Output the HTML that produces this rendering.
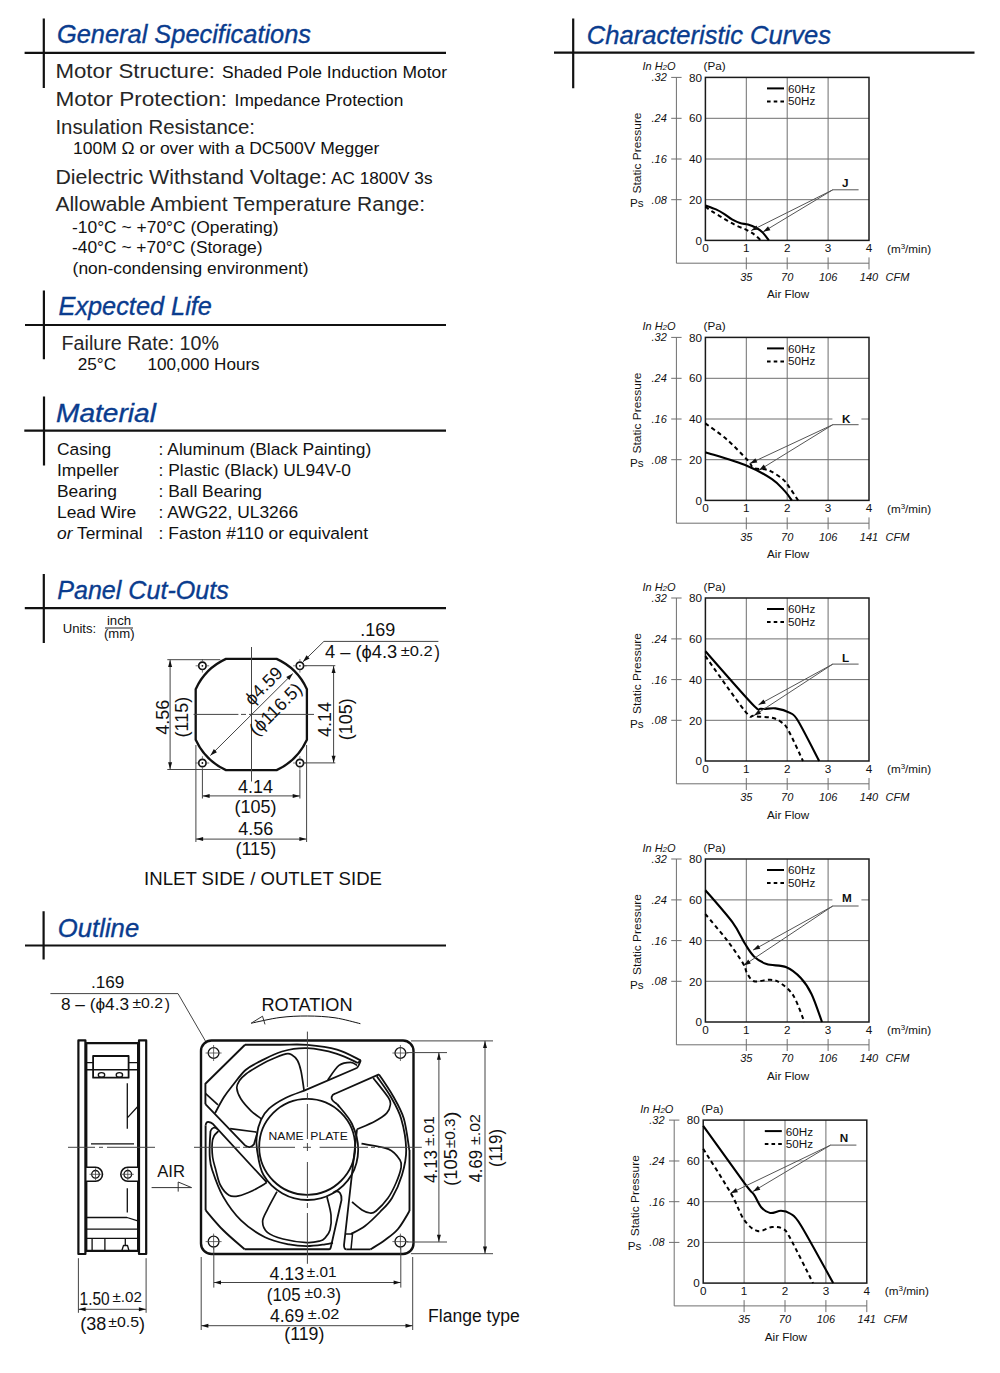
<!DOCTYPE html>
<html><head><meta charset="utf-8">
<style>
html,body{margin:0;padding:0;background:#fff;}
body{width:1000px;height:1373px;overflow:hidden;position:relative;}
svg{position:absolute;left:0;top:0;}
text{font-family:"Liberation Sans",sans-serif;}
.h{font-style:italic;fill:#0a3c8e;stroke:#0a3c8e;stroke-width:0.35px;font-size:26px;}
.g{fill:#262626;font-size:20px;}
.a{fill:#111;font-size:17.4px;}
.ct text{font-size:11.7px;fill:#111;}
.ct text.ci{font-style:italic;font-size:11px;}
.d{fill:#111;font-size:18px;}
</style></head><body>
<svg width="1000" height="1373" viewBox="0 0 1000 1373">
<g stroke="#111" stroke-width="2.2" fill="none">
<path d="M43.8 18.5V88M24.6 52.9H446"/>
<path d="M43.9 290.4V359.3M25 325H446"/>
<path d="M44 396.5V465.6M24.3 430.7H446"/>
<path d="M43.8 573.9V643M24.8 608.2H446"/>
<path d="M43.6 911.2V959.4M25 945.5H446"/>
<path d="M573.2 18.4V88.3M554 52.7H974.5"/>
</g>
<text class="h" x="57" y="43.3" textLength="254" lengthAdjust="spacingAndGlyphs" >General Specifications</text>
<text class="h" x="58.5" y="315.1" textLength="153.4" lengthAdjust="spacingAndGlyphs" >Expected Life</text>
<text class="h" x="56" y="421.7" textLength="100" lengthAdjust="spacingAndGlyphs" >Material</text>
<text class="h" x="57.2" y="598.6" textLength="171.6" lengthAdjust="spacingAndGlyphs" >Panel Cut-Outs</text>
<text class="h" x="57.8" y="936.5" textLength="81.4" lengthAdjust="spacingAndGlyphs" >Outline</text>
<text class="h" x="586.8" y="43.6" textLength="244.2" lengthAdjust="spacingAndGlyphs" >Characteristic Curves</text>
<text class="g" x="55.4" y="78.1" textLength="159.6" lengthAdjust="spacingAndGlyphs" >Motor Structure:</text>
<text class="a" x="222" y="78.2" textLength="225" lengthAdjust="spacingAndGlyphs" >Shaded Pole Induction Motor</text>
<text class="g" x="55.4" y="106" textLength="171.6" lengthAdjust="spacingAndGlyphs" >Motor Protection:</text>
<text class="a" x="234.6" y="106.1" textLength="168.7" lengthAdjust="spacingAndGlyphs" >Impedance Protection</text>
<text class="g" x="55.4" y="133.8" textLength="199.6" lengthAdjust="spacingAndGlyphs" >Insulation Resistance:</text>
<text class="a" x="73" y="154.4" textLength="306.4" lengthAdjust="spacingAndGlyphs" >100M Ω or over with a DC500V Megger</text>
<text class="g" x="55.4" y="183.5" textLength="271.6" lengthAdjust="spacingAndGlyphs" >Dielectric Withstand Voltage:</text>
<text class="a" x="331" y="183.5" textLength="101.5" lengthAdjust="spacingAndGlyphs" >AC 1800V 3s</text>
<text class="g" x="55.4" y="211.3" textLength="369.6" lengthAdjust="spacingAndGlyphs" >Allowable Ambient Temperature Range:</text>
<text class="a" x="72" y="232.6" textLength="206.5" lengthAdjust="spacingAndGlyphs" >-10°C ~ +70°C (Operating)</text>
<text class="a" x="72" y="253" textLength="190.5" lengthAdjust="spacingAndGlyphs" >-40°C ~ +70°C (Storage)</text>
<text class="a" x="72.6" y="274.4" textLength="235.9" lengthAdjust="spacingAndGlyphs" >(non-condensing environment)</text>
<text class="g" x="61.6" y="350.2" textLength="157.3" lengthAdjust="spacingAndGlyphs" >Failure Rate: 10%</text>
<text class="a" x="77.7" y="369.7" textLength="38.5" lengthAdjust="spacingAndGlyphs" >25°C</text>
<text class="a" x="147.4" y="369.7" textLength="112.3" lengthAdjust="spacingAndGlyphs" >100,000 Hours</text>
<text class="a" x="57" y="455.2" >Casing</text>
<text class="a" x="158.6" y="455.2" >: Aluminum (Black Painting)</text>
<text class="a" x="57" y="476.3" >Impeller</text>
<text class="a" x="158.6" y="476.3" >: Plastic (Black) UL94V-0</text>
<text class="a" x="57" y="497.2" >Bearing</text>
<text class="a" x="158.6" y="497.2" >: Ball Bearing</text>
<text class="a" x="57" y="517.8" >Lead Wire</text>
<text class="a" x="158.6" y="517.8" >: AWG22, UL3266</text>
<text class="a" x="57" y="538.7" ><tspan font-style="italic">or</tspan> Terminal</text>
<text class="a" x="158.6" y="538.7" >: Faston #110 or equivalent</text>
<text class="a" x="62.7" y="632.9" style="font-size:13.1px">Units:</text>
<text class="a" x="106.9" y="625" style="font-size:13.2px">inch</text>
<path d="M105 628H133" stroke="#222" stroke-width="1"/>
<text class="a" x="104" y="637.5" style="font-size:13.1px">(mm)</text>
<path d="M225.97 658.9H276.63A61.1 61.1 0 0 1 306.9 689.17V739.83A61.1 61.1 0 0 1 276.63 770.1H225.97A61.1 61.1 0 0 1 195.7 739.83V689.17A61.1 61.1 0 0 1 225.97 658.9Z" fill="none" stroke="#111" stroke-width="2.3"/>
<path d="M251.5 647V781.5M193.6 714.4H238.4M241 714.4H246M249 714.4H314" stroke="#444" stroke-width="1" fill="none"/>
<circle cx="202.4" cy="665.8" r="3.7" fill="none" stroke="#111" stroke-width="1.7"/><circle cx="202.4" cy="665.8" r="0.9" fill="#111"/><path d="M195.6 665.8H198.7M206.1 665.8H209.2M202.4 659V662.1M202.4 669.5V672.6" stroke="#555" stroke-width="0.8"/>
<circle cx="299.9" cy="665.8" r="3.7" fill="none" stroke="#111" stroke-width="1.7"/><circle cx="299.9" cy="665.8" r="0.9" fill="#111"/><path d="M293.1 665.8H296.2M303.6 665.8H306.7M299.9 659V662.1M299.9 669.5V672.6" stroke="#555" stroke-width="0.8"/>
<circle cx="202.4" cy="763" r="3.7" fill="none" stroke="#111" stroke-width="1.7"/><circle cx="202.4" cy="763" r="0.9" fill="#111"/><path d="M195.6 763H198.7M206.1 763H209.2M202.4 756.2V759.3M202.4 766.7V769.8" stroke="#555" stroke-width="0.8"/>
<circle cx="299.9" cy="763" r="3.7" fill="none" stroke="#111" stroke-width="1.7"/><circle cx="299.9" cy="763" r="0.9" fill="#111"/><path d="M293.1 763H296.2M303.6 763H306.7M299.9 756.2V759.3M299.9 766.7V769.8" stroke="#555" stroke-width="0.8"/>
<path d="M210.4 755.5L292.8 673.6" stroke="#444" stroke-width="1" fill="none"/>
<g fill="#111"><path d="M210.4 755.5L213.81 749L216.92 752.13Z"/><path d="M292.8 673.6L289.39 680.1L286.28 676.97Z"/></g>
<g transform="translate(251.3 714.5) rotate(-45)"><text class="d" x="28.9" y="-5.5" text-anchor="middle">ϕ4.59</text><text class="d" x="20.9" y="19.5" text-anchor="middle">(ϕ116.5)</text></g>
<path d="M167.3 659.7H220.3M167.3 769.5H220.3M170.1 659.7V769.5" stroke="#444" stroke-width="1" fill="none"/>
<g fill="#111"><path d="M170.1 659.9L172.1 666.9L168.1 666.9Z"/><path d="M170.1 769.3L168.1 762.3L172.1 762.3Z"/></g>
<text class="d" transform="translate(168.6 717.3) rotate(-90)" x="0" y="0" text-anchor="middle">4.56</text>
<text class="d" transform="translate(187.8 717.2) rotate(-90)" x="0" y="0" text-anchor="middle">(115)</text>
<path d="M303.8 665.7H335.3M303.8 762.9H335.3M333.6 665.7V762.9" stroke="#444" stroke-width="1" fill="none"/>
<g fill="#111"><path d="M333.6 665.9L335.6 672.9L331.6 672.9Z"/><path d="M333.6 762.7L331.6 755.7L335.6 755.7Z"/></g>
<text class="d" transform="translate(330.6 719.6) rotate(-90)" x="0" y="0" text-anchor="middle">4.14</text>
<text class="d" transform="translate(351.6 719.2) rotate(-90)" x="0" y="0" text-anchor="middle">(105)</text>
<path d="M195.9 745V842M202.4 770V798.5M299.9 770V798.5M306.6 745V842M202.4 795.9H299.9M195.9 839.1H306.6" stroke="#444" stroke-width="1" fill="none"/>
<g fill="#111"><path d="M202.6 795.9L209.6 793.9L209.6 797.9Z"/><path d="M299.7 795.9L292.7 797.9L292.7 793.9Z"/><path d="M196.1 839.1L203.1 837.1L203.1 841.1Z"/><path d="M306.4 839.1L299.4 841.1L299.4 837.1Z"/></g>
<text class="d" x="255.5" y="792.9" text-anchor="middle">4.14</text>
<text class="d" x="255.5" y="812.9" text-anchor="middle">(105)</text>
<text class="d" x="255.8" y="835.2" text-anchor="middle">4.56</text>
<text class="d" x="255.8" y="854.9" text-anchor="middle">(115)</text>
<text class="d" x="144.1" y="885.2" textLength="237.9" lengthAdjust="spacingAndGlyphs" style="font-size:18.5px">INLET SIDE / OUTLET SIDE</text>
<path d="M303 661.8L323.9 641.4H438.4" stroke="#444" stroke-width="1" fill="none"/>
<g fill="#111"><path d="M303 661.8L306.47 655.34L309.55 658.48Z"/></g>
<text class="d" x="360.2" y="636.3" >.169</text>
<text class="d" x="325" y="658.4" textLength="72.3" lengthAdjust="spacingAndGlyphs" >4 – (ϕ4.3</text>
<text class="d" x="400.7" y="655.5" textLength="32" lengthAdjust="spacingAndGlyphs" style="font-size:15.5px">±0.2</text>
<text class="d" x="434.6" y="658.4" textLength="5.4" lengthAdjust="spacingAndGlyphs" >)</text>
<text class="d" x="91" y="988" textLength="33.4" lengthAdjust="spacingAndGlyphs" style="font-size:17px">.169</text>
<path d="M50.4 993.6H178L206 1042" stroke="#444" stroke-width="1" fill="none"/>
<text class="d" x="61" y="1010.4" textLength="68" lengthAdjust="spacingAndGlyphs" style="font-size:17px">8 – (ϕ4.3</text>
<text class="d" x="132.4" y="1007.6" textLength="30.6" lengthAdjust="spacingAndGlyphs" style="font-size:15px">±0.2</text>
<text class="d" x="164.8" y="1010.4" textLength="5.2" lengthAdjust="spacingAndGlyphs" style="font-size:17px">)</text>
<path d="M78.4 1040.4H85.4V1254H78.4Z" stroke="#111" stroke-width="2.2" fill="none" stroke-linejoin="round" />
<path d="M139 1040.4H146.2V1254H139Z" stroke="#111" stroke-width="2.2" fill="none" stroke-linejoin="round" />
<path d="M85.4 1043.2H139M85.4 1250.8H139" stroke="#111" stroke-width="2.2" fill="none" stroke-linejoin="round" />
<path d="M86.6 1043.2V1167.3H95.5A7 7 0 0 1 95.5 1181.3H86.6V1250.8" stroke="#111" stroke-width="1.6" fill="none" stroke-linejoin="round" />
<path d="M137.8 1043.2V1167.3H127.8A7 7 0 0 0 127.8 1181.3H137.8V1250.8" stroke="#111" stroke-width="1.6" fill="none" stroke-linejoin="round" />
<path d="M93.1 1056H128.6V1077.7H93.1Z" stroke="#111" stroke-width="1.8" fill="none" stroke-linejoin="round" />
<path d="M86.6 1062.6H93.1M128.6 1062.6H137.8M86.6 1069.7H137.8" stroke="#111" stroke-width="1.4" fill="none" stroke-linejoin="round" />
<ellipse cx="101.5" cy="1074.9" rx="3.2" ry="2.2" fill="none" stroke="#111" stroke-width="1.3"/>
<ellipse cx="119.4" cy="1074.9" rx="3.2" ry="2.2" fill="none" stroke="#111" stroke-width="1.3"/>
<path d="M127.3 1083.2V1128.8M127.3 1117.9L138 1106.2M91 1143.8H134M127.3 1188.2V1212.5" stroke="#111" stroke-width="1.3" fill="none" stroke-linejoin="round" />
<path d="M86.6 1217.5H127L137.8 1220.9M86.6 1229.2H137.8M86.6 1238.4H137.8M92.1 1238.4V1250.8M104.9 1238.4V1250.8M121.8 1250.8L123.5 1245.5H127.5L129 1250.8M125.3 1238.4V1245.5" stroke="#111" stroke-width="1.3" fill="none" stroke-linejoin="round" />
<circle cx="95.5" cy="1174.3" r="3.8" fill="none" stroke="#111" stroke-width="1.3"/>
<path d="M89.5 1174.3H101.5M95.5 1168.3V1180.3" stroke="#444" stroke-width="0.8" fill="none" stroke-linejoin="round" />
<circle cx="127.8" cy="1174.3" r="3.8" fill="none" stroke="#111" stroke-width="1.3"/>
<path d="M121.8 1174.3H133.8M127.8 1168.3V1180.3" stroke="#444" stroke-width="0.8" fill="none" stroke-linejoin="round" />
<path d="M68 1147.3H95M99 1147.3H103M107 1147.3H155" stroke="#444" stroke-width="1" fill="none" stroke-linejoin="round" />
<path d="M78.4 1258.2V1312.8M146.1 1258.2V1312.8M78.4 1309.3H146.1" stroke="#444" stroke-width="1" fill="none" stroke-linejoin="round" />
<g fill="#111"><path d="M78.6 1309.3L85.6 1307.3L85.6 1311.3Z"/><path d="M145.9 1309.3L138.9 1311.3L138.9 1307.3Z"/></g>
<text class="d" x="79.6" y="1304.7" textLength="30.1" lengthAdjust="spacingAndGlyphs" >1.50</text>
<text class="d" x="112.5" y="1301.6" textLength="29.4" lengthAdjust="spacingAndGlyphs" style="font-size:15.5px" >±.02</text>
<text class="d" x="80.3" y="1329.6" >(38</text>
<text class="d" x="108.3" y="1327.1" textLength="30.8" lengthAdjust="spacingAndGlyphs" style="font-size:15.5px" >±0.5</text>
<text class="d" x="139" y="1329.6" >)</text>
<text class="d" x="157.2" y="1177.2" style="font-size:16.7px">AIR</text>
<path d="M151.6 1187.6H191.6L178.2 1182V1191.6" stroke="#333" stroke-width="1" fill="none" stroke-linejoin="round" />
<rect x="201" y="1040.5" width="212.5" height="213.5" rx="10.5" fill="none" stroke="#111" stroke-width="2.4"/>
<circle cx="213.6" cy="1053" r="5.4" fill="none" stroke="#111" stroke-width="1.3"/><path d="M205.6 1053H221.6M213.6 1045V1061" stroke="#444" stroke-width="0.8" fill="none" stroke-linejoin="round" />
<circle cx="400.4" cy="1053" r="5.4" fill="none" stroke="#111" stroke-width="1.3"/><path d="M392.4 1053H408.4M400.4 1045V1061" stroke="#444" stroke-width="0.8" fill="none" stroke-linejoin="round" />
<circle cx="213.6" cy="1241.6" r="5.4" fill="none" stroke="#111" stroke-width="1.3"/><path d="M205.6 1241.6H221.6M213.6 1233.6V1249.6" stroke="#444" stroke-width="0.8" fill="none" stroke-linejoin="round" />
<circle cx="400.4" cy="1241.6" r="5.4" fill="none" stroke="#111" stroke-width="1.3"/><path d="M392.4 1241.6H408.4M400.4 1233.6V1249.6" stroke="#444" stroke-width="0.8" fill="none" stroke-linejoin="round" />
<circle cx="307.2" cy="1146.8" r="48" fill="none" stroke="#111" stroke-width="1.8"/>
<path d="M356.8 1068L304.2 1090.6 C301 1091.87 290.87 1095.2 285 1098.2 C279.13 1101.2 273 1105 269 1108.6 C265 1112.2 263.03 1115.4 261 1119.8 C258.97 1124.2 257.47 1130.05 256.8 1135 C256.13 1139.95 255.88 1142.83 257 1149.5 C258.12 1156.17 259.25 1167.67 263.5 1175 C267.75 1182.33 275.17 1189.33 282.5 1193.5 C289.83 1197.67 299.17 1200 307.5 1200 C315.83 1200 325.17 1197.67 332.5 1193.5 C339.83 1189.33 347.22 1182.33 351.5 1175 C355.78 1167.67 358.12 1158 358.2 1149.5 C358.28 1141 355.5 1131.57 352 1124 C348.5 1116.43 339.67 1107.42 337.2 1104.1" stroke="#111" stroke-width="1.8" fill="none" stroke-linejoin="round" />
<path d="M245 1044.8 C250.83 1044.8 269.62 1044.78 280 1044.8 C290.38 1044.82 297.8 1044.1 307.3 1044.9 C316.8 1045.7 328.1 1047.03 337 1049.6 C345.9 1052.17 356.75 1058.52 360.7 1060.3" stroke="#111" stroke-width="1.9" fill="none" stroke-linejoin="round" />
<path d="M245 1044.8L205.4 1083.8V1104.2M205.6 1125.5V1210.2" stroke="#111" stroke-width="1.9" fill="none" stroke-linejoin="round" />
<path d="M205.6 1210.2 C208.5 1213.5 216.5 1223.48 223 1230 C229.5 1236.52 241 1246.08 244.6 1249.3" stroke="#111" stroke-width="1.9" fill="none" stroke-linejoin="round" />
<path d="M244.6 1249.3H329M346.5 1249.4H370.5" stroke="#111" stroke-width="1.9" fill="none" stroke-linejoin="round" />
<path d="M370.5 1249.4 C372.92 1247.83 380.42 1243.4 385 1240 C389.58 1236.6 393.92 1233.83 398 1229 C402.08 1224.17 407.58 1214 409.5 1211" stroke="#111" stroke-width="1.9" fill="none" stroke-linejoin="round" />
<path d="M409.5 1211V1150" stroke="#111" stroke-width="1.9" fill="none" stroke-linejoin="round" />
<path d="M215 1113.2 C216.5 1110.5 221 1101.7 224 1097 C227 1092.3 229.4 1089.5 233 1085 C236.6 1080.5 241.1 1073.93 245.6 1070 C250.1 1066.07 253.93 1064.48 260 1061.4 C266.07 1058.32 274.12 1053.7 282 1051.5 C289.88 1049.3 298.13 1047.82 307.3 1048.2 C316.47 1048.58 328.57 1051.33 337 1053.8 C345.43 1056.27 354.42 1061.47 357.9 1063" stroke="#111" stroke-width="1.8" fill="none" stroke-linejoin="round" />
<path d="M360.7 1060.3L357.9 1063" stroke="#111" stroke-width="1.8" fill="none" stroke-linejoin="round" />
<path d="M379 1074.4 C381.33 1078 388.87 1088.65 393 1096 C397.13 1103.35 401.08 1109.5 403.8 1118.5 C406.52 1127.5 408.38 1144.75 409.3 1150" stroke="#111" stroke-width="1.8" fill="none" stroke-linejoin="round" />
<path d="M376.8 1076.2 C379.05 1079.5 386.25 1088.95 390.3 1096 C394.35 1103.05 398.45 1109.5 401.1 1118.5 C403.75 1127.5 406.05 1140.58 406.2 1150 C406.35 1159.42 404.37 1167 402 1175 C399.63 1183 395.67 1191.83 392 1198 C388.33 1204.17 384.5 1207.33 380 1212 C375.5 1216.67 369.83 1222.33 365 1226 C360.17 1229.67 353.33 1232.67 351 1234" stroke="#111" stroke-width="1.8" fill="none" stroke-linejoin="round" />
<path d="M217.5 1129Q213 1125.5 210.5 1131" stroke="#111" stroke-width="1.8" fill="none" stroke-linejoin="round" />
<path d="M210.5 1131 C210.38 1133 209.92 1138.67 209.8 1143 C209.68 1147.33 209.4 1152.5 209.8 1157 C210.2 1161.5 210 1163.43 212.2 1170 C214.4 1176.57 218.2 1188 223 1196.4 C227.8 1204.8 234 1213.6 241 1220.4 C248 1227.2 257 1233.2 265 1237.2 C273 1241.2 282 1242.9 289 1244.4 C296 1245.9 301 1246.2 307 1246.2 C313 1246.2 320.67 1244.97 325 1244.4 C329.33 1243.83 331.67 1243.07 333 1242.8" stroke="#111" stroke-width="1.8" fill="none" stroke-linejoin="round" />
<path d="M205.4 1093.4L218 1104.8" stroke="#111" stroke-width="1.7" fill="none" stroke-linejoin="round" />
<path d="M205.4 1104.2L244.8 1145.1Q249.7 1149.5 253.9 1144.4L257.5 1132.5" stroke="#111" stroke-width="1.8" fill="none" stroke-linejoin="round" />
<path d="M205.6 1125.5Q206 1121.5 208.7 1122Q211 1122.3 212.6 1123.7L266.8 1182.4" stroke="#111" stroke-width="1.8" fill="none" stroke-linejoin="round" />
<path d="M356.8 1068Q359 1066 360.7 1060.3" stroke="#111" stroke-width="1.8" fill="none" stroke-linejoin="round" />
<path d="M337.2 1104.1Q331 1100.5 331.6 1097Q332.3 1094.6 335 1093.7L379 1074.4" stroke="#111" stroke-width="1.8" fill="none" stroke-linejoin="round" />
<path d="M357 1129.3L344 1245Q344 1249.4 346.5 1249.4" stroke="#111" stroke-width="1.8" fill="none" stroke-linejoin="round" />
<path d="M333 1193Q337 1189.5 340 1193Q342 1196 341.5 1200L331 1246.5Q330.5 1249.3 329 1249.3" stroke="#111" stroke-width="1.8" fill="none" stroke-linejoin="round" />
<path d="M346 1234H353M352.5 1234L351 1249.4" stroke="#111" stroke-width="1.5" fill="none" stroke-linejoin="round" />
<path d="M304 1090 C303.5 1086.83 302.08 1075.92 301 1071 C299.92 1066.08 299 1063.17 297.5 1060.5 C296 1057.83 293.92 1056.12 292 1055 C290.08 1053.88 289.67 1052.97 286 1053.8 C282.33 1054.63 275 1057.72 270 1060 C265 1062.28 260 1065.17 256 1067.5 C252 1069.83 248.75 1071.83 246 1074 C243.25 1076.17 241.03 1078.17 239.5 1080.5 C237.97 1082.83 236.58 1084.95 236.8 1088 C237.02 1091.05 238.43 1095 240.8 1098.8 C243.17 1102.6 247.57 1107.47 251 1110.8 C254.43 1114.13 259.67 1117.47 261.4 1118.8" stroke="#111" stroke-width="1.7" fill="none" stroke-linejoin="round" />
<path d="M327.7 1080.1 C329.58 1077.65 335.17 1068.37 339 1065.4 C342.83 1062.43 347.7 1062.3 350.7 1062.3 C353.7 1062.3 355.95 1064.88 357 1065.4" stroke="#111" stroke-width="1.7" fill="none" stroke-linejoin="round" />
<path d="M373.2 1078 C375.75 1081.3 385.65 1093.3 388.5 1097.8 C391.35 1102.3 390.6 1102.45 390.3 1105 C390 1107.55 389.25 1110.4 386.7 1113.1 C384.15 1115.8 379.95 1118.5 375 1121.2 C370.05 1123.9 360 1127.95 357 1129.3" stroke="#111" stroke-width="1.7" fill="none" stroke-linejoin="round" />
<path d="M361.5 1143.7 C366 1144.6 382.08 1146.38 388.5 1149.1 C394.92 1151.82 397.92 1156.85 400 1160 C402.08 1163.15 401.67 1164.17 401 1168 C400.33 1171.83 398.17 1178 396 1183 C393.83 1188 391.33 1193.33 388 1198 C384.67 1202.67 379 1208.5 376 1211 C373 1213.5 372.33 1213.17 370 1213 C367.67 1212.83 365 1211.83 362 1210 C359 1208.17 353.67 1203.33 352 1202" stroke="#111" stroke-width="1.7" fill="none" stroke-linejoin="round" />
<path d="M277 1191.6 C275.4 1194.6 269.8 1204.6 267.4 1209.6 C265 1214.6 262.6 1217.8 262.6 1221.6 C262.6 1225.4 264 1229.5 267.4 1232.4 C270.8 1235.3 276.4 1237.3 283 1239 C289.6 1240.7 300.83 1242.27 307 1242.6 C313.17 1242.93 317 1241.77 320 1241 C323 1240.23 323.33 1239.83 325 1238 C326.67 1236.17 329 1233.83 330 1230 C331 1226.17 331.5 1220.5 331 1215 C330.5 1209.5 327.67 1200 327 1197" stroke="#111" stroke-width="1.7" fill="none" stroke-linejoin="round" />
<path d="M218.5 1131.1 C217.75 1131.92 215.05 1134.02 214 1136 C212.95 1137.98 212.43 1139.5 212.2 1143 C211.97 1146.5 212 1152.5 212.6 1157 C213.2 1161.5 214.52 1165.33 215.8 1170 C217.08 1174.67 218.1 1180.8 220.3 1185 C222.5 1189.2 225.95 1193.4 229 1195.2 C232.05 1197 234.6 1196.6 238.6 1195.8 C242.6 1195 248.3 1192.6 253 1190.4 C257.7 1188.2 264.5 1183.9 266.8 1182.6" stroke="#111" stroke-width="1.7" fill="none" stroke-linejoin="round" />
<path d="M230.1 1128.6L256.5 1132.1" stroke="#111" stroke-width="1.6" fill="none" stroke-linejoin="round" />
<text class="d" x="268.6" y="1139.8" style="font-size:11.6px" textLength="79.2" lengthAdjust="spacingAndGlyphs">NAME&#160;&#160;PLATE</text>
<path d="M194 1147.3H240M243 1147.3H247M250 1147.3H295M303 1147.3H311M319.6 1147.3H368M371 1147.3H375M378 1147.3H421.8" stroke="#444" stroke-width="1" fill="none" stroke-linejoin="round" />
<path d="M307.4 1031.6V1087M307.4 1093V1099M307.4 1104V1139M307.4 1143V1151M307.4 1162V1198M307.4 1203V1208M307.4 1213V1263.8" stroke="#444" stroke-width="1" fill="none" stroke-linejoin="round" />
<text class="d" x="261.5" y="1011.2" textLength="91" lengthAdjust="spacingAndGlyphs">ROTATION</text>
<path d="M251.2 1023.2 C256 1022.25 270.6 1018.7 280 1017.5 C289.4 1016.3 298.43 1015.95 307.6 1016 C316.77 1016.05 326.2 1016.52 335 1017.8 C343.8 1019.08 356.17 1022.72 360.4 1023.7" stroke="#111" stroke-width="1" fill="none" stroke-linejoin="round" />
<path d="M251.2 1023.2L262.5 1016.2L265 1024.4" stroke="#333" stroke-width="1" fill="none" stroke-linejoin="round" />
<path d="M410.9 1040.9H493M410.9 1253.7H493M406.7 1052.6H447M406.7 1242H447M438.9 1052.6V1242M485 1040.9V1253.7" stroke="#444" stroke-width="1" fill="none" stroke-linejoin="round" />
<g fill="#111"><path d="M438.9 1052.8L440.9 1059.8L436.9 1059.8Z"/><path d="M438.9 1241.8L436.9 1234.8L440.9 1234.8Z"/><path d="M485 1041.1L487 1048.1L483 1048.1Z"/><path d="M485 1253.5L483 1246.5L487 1246.5Z"/></g>
<g transform="translate(437.1 1182.9) rotate(-90)"><text class="d" x="0" y="0" textLength="32.9" lengthAdjust="spacingAndGlyphs" style="font-size:17.5px" >4.13</text><text class="d" x="36.9" y="-2.7" textLength="29.7" lengthAdjust="spacingAndGlyphs" style="font-size:15.5px" >±.01</text></g>
<g transform="translate(456.9 1186) rotate(-90)"><text class="d" x="0" y="0" textLength="36.9" lengthAdjust="spacingAndGlyphs" style="font-size:17.5px" >(105</text><text class="d" x="37.8" y="-2.2" textLength="29.7" lengthAdjust="spacingAndGlyphs" style="font-size:15.5px" >±0.3</text><text class="d" x="67.5" y="0" textLength="7.2" lengthAdjust="spacingAndGlyphs" style="font-size:17.5px" >)</text></g>
<g transform="translate(482.1 1182.4) rotate(-90)"><text class="d" x="0" y="0" textLength="32.4" lengthAdjust="spacingAndGlyphs" style="font-size:17.5px" >4.69</text><text class="d" x="37.4" y="-2.6" textLength="31" lengthAdjust="spacingAndGlyphs" style="font-size:15.5px" >±.02</text></g>
<g transform="translate(501.5 1167.1) rotate(-90)"><text class="d" x="0" y="0" textLength="38.2" lengthAdjust="spacingAndGlyphs" style="font-size:17.5px" >(119)</text></g>
<path d="M201.2 1257V1330M412.7 1257V1330M213.8 1248V1287.6M400.8 1248V1287.6M213.8 1282.5H400.8M201.2 1325.7H412.7" stroke="#444" stroke-width="1" fill="none" stroke-linejoin="round" />
<g fill="#111"><path d="M214 1282.5L221 1280.5L221 1284.5Z"/><path d="M400.6 1282.5L393.6 1284.5L393.6 1280.5Z"/><path d="M201.4 1325.7L208.4 1323.7L208.4 1327.7Z"/><path d="M412.5 1325.7L405.5 1327.7L405.5 1323.7Z"/></g>
<text class="d" x="269.5" y="1280.2" textLength="34.6" lengthAdjust="spacingAndGlyphs" >4.13</text>
<text class="d" x="306.8" y="1277.1" textLength="29.8" lengthAdjust="spacingAndGlyphs" style="font-size:15.5px" >±.01</text>
<text class="d" x="266.8" y="1301.2" textLength="33.7" lengthAdjust="spacingAndGlyphs" >(105</text>
<text class="d" x="304.6" y="1297.6" textLength="30.6" lengthAdjust="spacingAndGlyphs" style="font-size:15.5px" >±0.3</text>
<text class="d" x="335.2" y="1301.2" textLength="5.8" lengthAdjust="spacingAndGlyphs" >)</text>
<text class="d" x="269.9" y="1322" textLength="34.2" lengthAdjust="spacingAndGlyphs" >4.69</text>
<text class="d" x="307.7" y="1319" textLength="31.6" lengthAdjust="spacingAndGlyphs" style="font-size:15.5px" >±.02</text>
<text class="d" x="284.3" y="1340.2" textLength="40.1" lengthAdjust="spacingAndGlyphs" >(119)</text>
<text class="d" x="428" y="1321.6" textLength="91.8" lengthAdjust="spacingAndGlyphs">Flange type</text>
<g transform="translate(705.4 240.4)">
<g stroke="#6e6e6e" stroke-width="1" fill="none">
<path d="M40.9 -163V0M81.8 -163V0M122.7 -163V0M0 -40.7H163.6M0 -81.4H163.6M0 -122.1H163.6M-29 -163V22.8H163.6M-34.2 -163H-23.8M-34.2 -122.1H-23.8M-34.2 -81.4H-23.8M-34.2 -40.7H-23.8M40.9 17V29M81.8 17V29M122.7 17V29M163.6 17V29"/></g>
<rect x="0" y="-163" width="163.6" height="163" fill="none" stroke="#1a1a1a" stroke-width="1.5"/>
<path d="M0 -35 C1.77 -34.33 7.5 -32.4 10.6 -31 C13.7 -29.6 15.93 -28.27 18.6 -26.6 C21.27 -24.93 23.93 -22.53 26.6 -21 C29.27 -19.47 31.93 -18.27 34.6 -17.4 C37.27 -16.53 39.93 -16.6 42.6 -15.8 C45.27 -15 48.2 -13.87 50.6 -12.6 C53 -11.33 54.87 -10.3 57 -8.2 C59.13 -6.1 62.33 -1.37 63.4 0" fill="none" stroke="#000" stroke-width="2.1"/>
<path d="M0 -33.8 C1.1 -33 3.5 -31 6.6 -29 C9.7 -27 14.6 -24.13 18.6 -21.8 C22.6 -19.47 26.87 -16.87 30.6 -15 C34.33 -13.13 37.93 -12.13 41 -10.6 C44.07 -9.07 46.6 -7.57 49 -5.8 C51.4 -4.03 54.33 -0.97 55.4 0" fill="none" stroke="#000" stroke-width="2" stroke-dasharray="4.2 3.3"/>
<path d="M61.6 -152H78.6" stroke="#000" stroke-width="2"/>
<path d="M61.6 -139H78.6" stroke="#000" stroke-width="2" stroke-dasharray="3.6 3.1"/>
<g stroke="#555" stroke-width="1" fill="none">
<path d="M127.4 -50.6H153.2M127.4 -50.6L45.8 -9.8M127.4 -50.6L57.8 -8.6"/></g>
<g fill="#111">
<path d="M45.8 -9.8L51.03 -14.99L53.09 -10.87Z"/>
<path d="M57.8 -8.6L62.6 -14.19L64.98 -10.25Z"/>
</g>
<g class="ct">
<text x="-3.4" y="-158.7" text-anchor="end">80</text>
<text x="-3.4" y="-117.95" text-anchor="end">60</text>
<text x="-3.4" y="-77.2" text-anchor="end">40</text>
<text x="-3.4" y="-36.45" text-anchor="end">20</text>
<text x="-3.4" y="4.3" text-anchor="end">0</text>
<text class="ci" x="-38.6" y="-159" text-anchor="end">.32</text>
<text class="ci" x="-38.6" y="-118.25" text-anchor="end">.24</text>
<text class="ci" x="-38.6" y="-77.5" text-anchor="end">.16</text>
<text class="ci" x="-38.6" y="-36.75" text-anchor="end">.08</text>
<text class="ci" x="-63" y="-170.5">In H<tspan font-size="8">2</tspan>O</text>
<text x="-1.9" y="-170.5">(Pa)</text>
<text x="-64.4" y="-87.4" transform="rotate(-90 -64.4 -87.4)" text-anchor="middle" textLength="81" lengthAdjust="spacingAndGlyphs">Static Pressure</text>
<text x="-75.5" y="-33">Ps</text>
<text x="0" y="11.8" text-anchor="middle">0</text>
<text x="40.9" y="11.8" text-anchor="middle">1</text>
<text x="81.8" y="11.8" text-anchor="middle">2</text>
<text x="122.7" y="11.8" text-anchor="middle">3</text>
<text x="163.6" y="11.8" text-anchor="middle">4</text>
<text x="181.6" y="12.4">(m<tspan font-size="8" dy="-4">3</tspan><tspan dy="4">/min)</tspan></text>
<text class="ci" x="40.9" y="40.4" text-anchor="middle">35</text>
<text class="ci" x="81.8" y="40.4" text-anchor="middle">70</text>
<text class="ci" x="122.7" y="40.4" text-anchor="middle">106</text>
<text class="ci" x="163.6" y="40.4" text-anchor="middle">140</text>
<text class="ci" x="180.2" y="40.4">CFM</text>
<text x="61.6" y="58">Air Flow</text>
<text x="82.6" y="-147.6">60Hz</text>
<text x="82.6" y="-135">50Hz</text>
<text x="136.6" y="-53.4" font-weight="bold">J</text>
</g></g>
<g transform="translate(705.4 500.4)">
<g stroke="#6e6e6e" stroke-width="1" fill="none">
<path d="M40.9 -163V0M81.8 -163V0M122.7 -163V0M0 -40.7H163.6M0 -81.4H163.6M0 -122.1H163.6M-29 -163V22.8H163.6M-34.2 -163H-23.8M-34.2 -122.1H-23.8M-34.2 -81.4H-23.8M-34.2 -40.7H-23.8M40.9 17V29M81.8 17V29M122.7 17V29M163.6 17V29"/></g>
<rect x="127" y="-83.4" width="29" height="4" fill="#fff"/>
<rect x="0" y="-163" width="163.6" height="163" fill="none" stroke="#1a1a1a" stroke-width="1.5"/>
<path d="M0 -48.2 C6.9 -45.95 30.3 -39.2 41.4 -34.7 C52.5 -30.2 60.3 -25.4 66.6 -21.2 C72.9 -17 75.9 -13.03 79.2 -9.5 C82.5 -5.97 85.2 -1.58 86.4 0" fill="none" stroke="#000" stroke-width="2.1"/>
<path d="M0 -77 C3.6 -74.3 14.55 -66.95 21.6 -60.8 C28.65 -54.65 37.8 -44.83 42.3 -40.1 C46.8 -35.37 45.15 -34.05 48.6 -32.4 C52.05 -30.75 58.2 -32.07 63 -30.2 C67.8 -28.33 73.8 -24.2 77.4 -21.2 C81 -18.2 82.05 -15.73 84.6 -12.2 C87.15 -8.67 91.35 -2.03 92.7 0" fill="none" stroke="#000" stroke-width="2" stroke-dasharray="4.2 3.3"/>
<path d="M61.6 -152H78.6" stroke="#000" stroke-width="2"/>
<path d="M61.6 -139H78.6" stroke="#000" stroke-width="2" stroke-dasharray="3.6 3.1"/>
<g stroke="#555" stroke-width="1" fill="none">
<path d="M127.4 -75.7H153.2M127.4 -75.7L44.6 -37M127.4 -75.7L53.6 -30.2"/></g>
<g fill="#111">
<path d="M44.6 -37L49.97 -42.05L51.92 -37.88Z"/>
<path d="M53.6 -30.2L58.35 -35.83L60.77 -31.92Z"/>
</g>
<g class="ct">
<text x="-3.4" y="-158.7" text-anchor="end">80</text>
<text x="-3.4" y="-117.95" text-anchor="end">60</text>
<text x="-3.4" y="-77.2" text-anchor="end">40</text>
<text x="-3.4" y="-36.45" text-anchor="end">20</text>
<text x="-3.4" y="4.3" text-anchor="end">0</text>
<text class="ci" x="-38.6" y="-159" text-anchor="end">.32</text>
<text class="ci" x="-38.6" y="-118.25" text-anchor="end">.24</text>
<text class="ci" x="-38.6" y="-77.5" text-anchor="end">.16</text>
<text class="ci" x="-38.6" y="-36.75" text-anchor="end">.08</text>
<text class="ci" x="-63" y="-170.5">In H<tspan font-size="8">2</tspan>O</text>
<text x="-1.9" y="-170.5">(Pa)</text>
<text x="-64.4" y="-87.4" transform="rotate(-90 -64.4 -87.4)" text-anchor="middle" textLength="81" lengthAdjust="spacingAndGlyphs">Static Pressure</text>
<text x="-75.5" y="-33">Ps</text>
<text x="0" y="11.8" text-anchor="middle">0</text>
<text x="40.9" y="11.8" text-anchor="middle">1</text>
<text x="81.8" y="11.8" text-anchor="middle">2</text>
<text x="122.7" y="11.8" text-anchor="middle">3</text>
<text x="163.6" y="11.8" text-anchor="middle">4</text>
<text x="181.6" y="12.4">(m<tspan font-size="8" dy="-4">3</tspan><tspan dy="4">/min)</tspan></text>
<text class="ci" x="40.9" y="40.4" text-anchor="middle">35</text>
<text class="ci" x="81.8" y="40.4" text-anchor="middle">70</text>
<text class="ci" x="122.7" y="40.4" text-anchor="middle">106</text>
<text class="ci" x="163.6" y="40.4" text-anchor="middle">141</text>
<text class="ci" x="180.2" y="40.4">CFM</text>
<text x="61.6" y="58">Air Flow</text>
<text x="82.6" y="-147.6">60Hz</text>
<text x="82.6" y="-135">50Hz</text>
<text x="136.6" y="-77.9" font-weight="bold">K</text>
</g></g>
<g transform="translate(705.4 761)">
<g stroke="#6e6e6e" stroke-width="1" fill="none">
<path d="M40.9 -163V0M81.8 -163V0M122.7 -163V0M0 -40.7H163.6M0 -81.4H163.6M0 -122.1H163.6M-29 -163V22.8H163.6M-34.2 -163H-23.8M-34.2 -122.1H-23.8M-34.2 -81.4H-23.8M-34.2 -40.7H-23.8M40.9 17V29M81.8 17V29M122.7 17V29M163.6 17V29"/></g>
<rect x="0" y="-163" width="163.6" height="163" fill="none" stroke="#1a1a1a" stroke-width="1.5"/>
<path d="M0 -109.8 C7.8 -101.02 37.5 -66.7 46.8 -57.1 C56.1 -47.5 51.9 -52.95 55.8 -52.2 C59.7 -51.45 65.4 -53.28 70.2 -52.6 C75 -51.92 80.85 -50.2 84.6 -48.1 C88.35 -46 87.83 -48.02 92.7 -40 C97.57 -31.98 110.28 -6.67 113.8 0" fill="none" stroke="#000" stroke-width="2.1"/>
<path d="M0 -104.8 C6.6 -95.65 31.5 -59.87 39.6 -49.9 C47.7 -39.93 44.1 -46.12 48.6 -45 C53.1 -43.88 62.1 -44.18 66.6 -43.2 C71.1 -42.22 72.9 -41.13 75.6 -39.1 C78.3 -37.07 79.13 -37.52 82.8 -31 C86.47 -24.48 95.13 -5.17 97.6 0" fill="none" stroke="#000" stroke-width="2" stroke-dasharray="4.2 3.3"/>
<path d="M61.6 -152H78.6" stroke="#000" stroke-width="2"/>
<path d="M61.6 -139H78.6" stroke="#000" stroke-width="2" stroke-dasharray="3.6 3.1"/>
<g stroke="#555" stroke-width="1" fill="none">
<path d="M127.4 -96.9H153.2M127.4 -96.9L53.1 -56.2M127.4 -96.9L48.6 -45.4"/></g>
<g fill="#111">
<path d="M53.1 -56.2L58.13 -61.58L60.34 -57.55Z"/>
<path d="M48.6 -45.4L53.2 -51.15L55.72 -47.3Z"/>
</g>
<g class="ct">
<text x="-3.4" y="-158.7" text-anchor="end">80</text>
<text x="-3.4" y="-117.95" text-anchor="end">60</text>
<text x="-3.4" y="-77.2" text-anchor="end">40</text>
<text x="-3.4" y="-36.45" text-anchor="end">20</text>
<text x="-3.4" y="4.3" text-anchor="end">0</text>
<text class="ci" x="-38.6" y="-159" text-anchor="end">.32</text>
<text class="ci" x="-38.6" y="-118.25" text-anchor="end">.24</text>
<text class="ci" x="-38.6" y="-77.5" text-anchor="end">.16</text>
<text class="ci" x="-38.6" y="-36.75" text-anchor="end">.08</text>
<text class="ci" x="-63" y="-170.5">In H<tspan font-size="8">2</tspan>O</text>
<text x="-1.9" y="-170.5">(Pa)</text>
<text x="-64.4" y="-87.4" transform="rotate(-90 -64.4 -87.4)" text-anchor="middle" textLength="81" lengthAdjust="spacingAndGlyphs">Static Pressure</text>
<text x="-75.5" y="-33">Ps</text>
<text x="0" y="11.8" text-anchor="middle">0</text>
<text x="40.9" y="11.8" text-anchor="middle">1</text>
<text x="81.8" y="11.8" text-anchor="middle">2</text>
<text x="122.7" y="11.8" text-anchor="middle">3</text>
<text x="163.6" y="11.8" text-anchor="middle">4</text>
<text x="181.6" y="12.4">(m<tspan font-size="8" dy="-4">3</tspan><tspan dy="4">/min)</tspan></text>
<text class="ci" x="40.9" y="40.4" text-anchor="middle">35</text>
<text class="ci" x="81.8" y="40.4" text-anchor="middle">70</text>
<text class="ci" x="122.7" y="40.4" text-anchor="middle">106</text>
<text class="ci" x="163.6" y="40.4" text-anchor="middle">140</text>
<text class="ci" x="180.2" y="40.4">CFM</text>
<text x="61.6" y="58">Air Flow</text>
<text x="82.6" y="-147.6">60Hz</text>
<text x="82.6" y="-135">50Hz</text>
<text x="136.6" y="-99.2" font-weight="bold">L</text>
</g></g>
<g transform="translate(705.4 1022)">
<g stroke="#6e6e6e" stroke-width="1" fill="none">
<path d="M40.9 -163V0M81.8 -163V0M122.7 -163V0M0 -40.7H163.6M0 -81.4H163.6M0 -122.1H163.6M-29 -163V22.8H163.6M-34.2 -163H-23.8M-34.2 -122.1H-23.8M-34.2 -81.4H-23.8M-34.2 -40.7H-23.8M40.9 17V29M81.8 17V29M122.7 17V29M163.6 17V29"/></g>
<rect x="127" y="-124.1" width="29" height="4" fill="#fff"/>
<rect x="0" y="-163" width="163.6" height="163" fill="none" stroke="#1a1a1a" stroke-width="1.5"/>
<path d="M0 -131.8 C4.5 -126.47 20.4 -108.73 27 -99.8 C33.6 -90.87 36 -83.9 39.6 -78.2 C43.2 -72.5 45 -68.97 48.6 -65.6 C52.2 -62.23 55.8 -59.8 61.2 -58 C66.6 -56.2 75.3 -57.13 81 -54.8 C86.7 -52.47 91.2 -48.5 95.4 -44 C99.6 -39.5 102.67 -35.13 106.2 -27.8 C109.73 -20.47 114.87 -4.63 116.6 0" fill="none" stroke="#000" stroke-width="2.1"/>
<path d="M0 -107.9 C3.6 -103.55 15.3 -90.05 21.6 -81.8 C27.9 -73.55 34.5 -63.8 37.8 -58.4 C41.1 -53 39.6 -52.33 41.4 -49.4 C43.2 -46.47 44.7 -42 48.6 -40.8 C52.5 -39.6 60.3 -42.57 64.8 -42.2 C69.3 -41.83 71.7 -41.3 75.6 -38.6 C79.5 -35.9 84.3 -32.43 88.2 -26 C92.1 -19.57 97.2 -4.33 99 0" fill="none" stroke="#000" stroke-width="2" stroke-dasharray="4.2 3.3"/>
<path d="M61.6 -152H78.6" stroke="#000" stroke-width="2"/>
<path d="M61.6 -139H78.6" stroke="#000" stroke-width="2" stroke-dasharray="3.6 3.1"/>
<g stroke="#555" stroke-width="1" fill="none">
<path d="M127.4 -116H153.2M127.4 -116L47.7 -71.9M127.4 -116L38.3 -56.6"/></g>
<g fill="#111">
<path d="M47.7 -71.9L52.71 -77.3L54.94 -73.28Z"/>
<path d="M38.3 -56.6L42.85 -62.4L45.4 -58.57Z"/>
</g>
<g class="ct">
<text x="-3.4" y="-158.7" text-anchor="end">80</text>
<text x="-3.4" y="-117.95" text-anchor="end">60</text>
<text x="-3.4" y="-77.2" text-anchor="end">40</text>
<text x="-3.4" y="-36.45" text-anchor="end">20</text>
<text x="-3.4" y="4.3" text-anchor="end">0</text>
<text class="ci" x="-38.6" y="-159" text-anchor="end">.32</text>
<text class="ci" x="-38.6" y="-118.25" text-anchor="end">.24</text>
<text class="ci" x="-38.6" y="-77.5" text-anchor="end">.16</text>
<text class="ci" x="-38.6" y="-36.75" text-anchor="end">.08</text>
<text class="ci" x="-63" y="-170.5">In H<tspan font-size="8">2</tspan>O</text>
<text x="-1.9" y="-170.5">(Pa)</text>
<text x="-64.4" y="-87.4" transform="rotate(-90 -64.4 -87.4)" text-anchor="middle" textLength="81" lengthAdjust="spacingAndGlyphs">Static Pressure</text>
<text x="-75.5" y="-33">Ps</text>
<text x="0" y="11.8" text-anchor="middle">0</text>
<text x="40.9" y="11.8" text-anchor="middle">1</text>
<text x="81.8" y="11.8" text-anchor="middle">2</text>
<text x="122.7" y="11.8" text-anchor="middle">3</text>
<text x="163.6" y="11.8" text-anchor="middle">4</text>
<text x="181.6" y="12.4">(m<tspan font-size="8" dy="-4">3</tspan><tspan dy="4">/min)</tspan></text>
<text class="ci" x="40.9" y="40.4" text-anchor="middle">35</text>
<text class="ci" x="81.8" y="40.4" text-anchor="middle">70</text>
<text class="ci" x="122.7" y="40.4" text-anchor="middle">106</text>
<text class="ci" x="163.6" y="40.4" text-anchor="middle">140</text>
<text class="ci" x="180.2" y="40.4">CFM</text>
<text x="61.6" y="58">Air Flow</text>
<text x="82.6" y="-147.6">60Hz</text>
<text x="82.6" y="-135">50Hz</text>
<text x="136.6" y="-119.8" font-weight="bold">M</text>
</g></g>
<g transform="translate(703.2 1283.1)">
<g stroke="#6e6e6e" stroke-width="1" fill="none">
<path d="M40.9 -163V0M81.8 -163V0M122.7 -163V0M0 -40.7H163.6M0 -81.4H163.6M0 -122.1H163.6M-29 -163V22.8H163.6M-34.2 -163H-23.8M-34.2 -122.1H-23.8M-34.2 -81.4H-23.8M-34.2 -40.7H-23.8M40.9 17V29M81.8 17V29M122.7 17V29M163.6 17V29"/></g>
<rect x="0" y="-163" width="163.6" height="163" fill="none" stroke="#1a1a1a" stroke-width="1.5"/>
<path d="M0 -157.3 C6.97 -147.63 33.33 -110.77 41.8 -99.3 C50.27 -87.83 48.1 -92.4 50.8 -88.5 C53.5 -84.6 55.3 -78.97 58 -75.9 C60.7 -72.83 63.7 -70.7 67 -70.1 C70.3 -69.5 74.5 -72.38 77.8 -72.3 C81.1 -72.22 83.5 -72 86.8 -69.6 C90.1 -67.2 90.4 -69.5 97.6 -57.9 C104.8 -46.3 124.6 -9.65 130 0" fill="none" stroke="#000" stroke-width="2.1"/>
<path d="M0 -134.4 C4.57 -127.05 20.58 -102.15 27.4 -90.3 C34.22 -78.45 36.4 -69.67 40.9 -63.3 C45.4 -56.93 49.75 -53.3 54.4 -52.1 C59.05 -50.9 64.6 -55.73 68.8 -56.1 C73 -56.47 76.6 -56.1 79.6 -54.3 C82.6 -52.5 81.77 -54.35 86.8 -45.3 C91.83 -36.25 105.97 -7.55 109.8 0" fill="none" stroke="#000" stroke-width="2" stroke-dasharray="4.2 3.3"/>
<path d="M61.6 -152H78.6" stroke="#000" stroke-width="2"/>
<path d="M61.6 -139H78.6" stroke="#000" stroke-width="2" stroke-dasharray="3.6 3.1"/>
<g stroke="#555" stroke-width="1" fill="none">
<path d="M127.4 -138H153.2M127.4 -138L27.4 -89.9M127.4 -138L49.9 -91.7"/></g>
<g fill="#111">
<path d="M27.4 -89.9L32.71 -95.01L34.71 -90.86Z"/>
<path d="M49.9 -91.7L54.73 -97.26L57.09 -93.32Z"/>
</g>
<g class="ct">
<text x="-3.4" y="-158.7" text-anchor="end">80</text>
<text x="-3.4" y="-117.95" text-anchor="end">60</text>
<text x="-3.4" y="-77.2" text-anchor="end">40</text>
<text x="-3.4" y="-36.45" text-anchor="end">20</text>
<text x="-3.4" y="4.3" text-anchor="end">0</text>
<text class="ci" x="-38.6" y="-159" text-anchor="end">.32</text>
<text class="ci" x="-38.6" y="-118.25" text-anchor="end">.24</text>
<text class="ci" x="-38.6" y="-77.5" text-anchor="end">.16</text>
<text class="ci" x="-38.6" y="-36.75" text-anchor="end">.08</text>
<text class="ci" x="-63" y="-170.5">In H<tspan font-size="8">2</tspan>O</text>
<text x="-1.9" y="-170.5">(Pa)</text>
<text x="-64.4" y="-87.4" transform="rotate(-90 -64.4 -87.4)" text-anchor="middle" textLength="81" lengthAdjust="spacingAndGlyphs">Static Pressure</text>
<text x="-75.5" y="-33">Ps</text>
<text x="0" y="11.8" text-anchor="middle">0</text>
<text x="40.9" y="11.8" text-anchor="middle">1</text>
<text x="81.8" y="11.8" text-anchor="middle">2</text>
<text x="122.7" y="11.8" text-anchor="middle">3</text>
<text x="163.6" y="11.8" text-anchor="middle">4</text>
<text x="181.6" y="12.4">(m<tspan font-size="8" dy="-4">3</tspan><tspan dy="4">/min)</tspan></text>
<text class="ci" x="40.9" y="40.4" text-anchor="middle">35</text>
<text class="ci" x="81.8" y="40.4" text-anchor="middle">70</text>
<text class="ci" x="122.7" y="40.4" text-anchor="middle">106</text>
<text class="ci" x="163.6" y="40.4" text-anchor="middle">141</text>
<text class="ci" x="180.2" y="40.4">CFM</text>
<text x="61.6" y="58">Air Flow</text>
<text x="82.6" y="-147.6">60Hz</text>
<text x="82.6" y="-135">50Hz</text>
<text x="136.6" y="-140.7" font-weight="bold">N</text>
</g></g>
</svg>
</body></html>
